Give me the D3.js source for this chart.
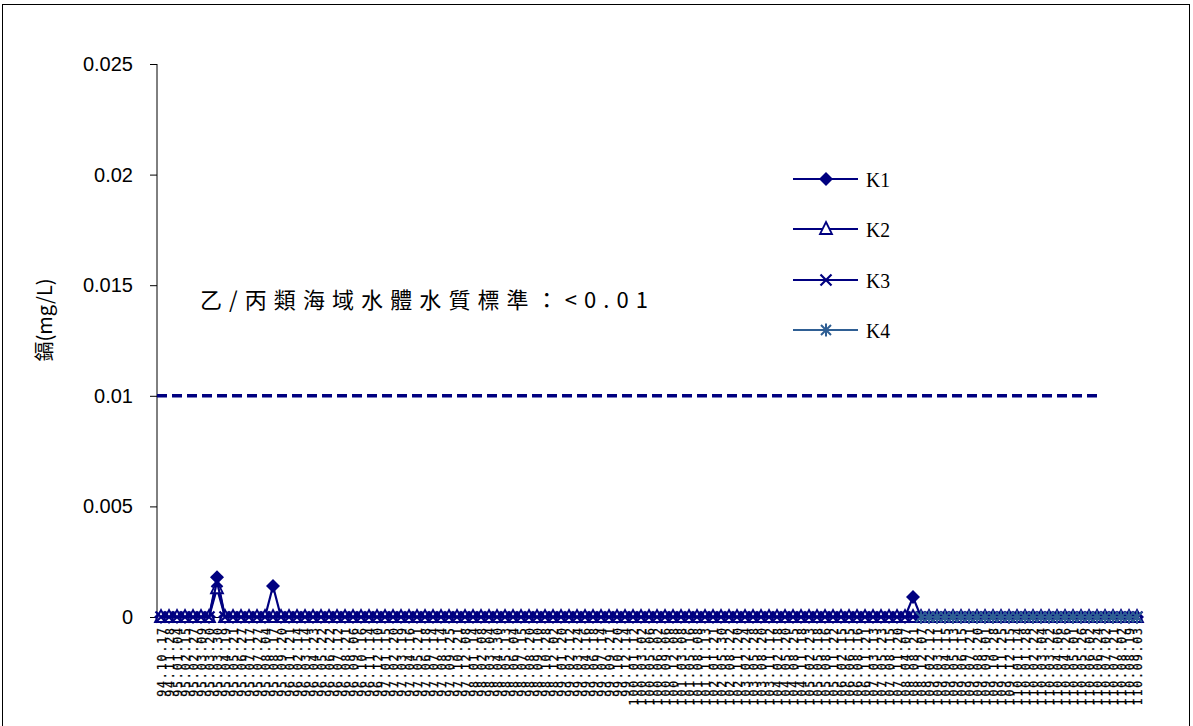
<!DOCTYPE html>
<html><head><meta charset="utf-8">
<script src="https://cdn.jsdelivr.net/npm/d3@7"></script>
<style>html,body{margin:0;padding:0;background:#fff;}svg{display:block;}</style>
</head><body>
<script>
const dates = [
"94.10.17","94.11.28",
"95.01.04","95.02.15","95.02.27","95.03.09","95.03.20","95.03.30","95.04.19","95.05.21","95.06.27","95.07.17","95.07.27","95.08.04","95.08.17","95.09.20",
"96.01.21","96.02.14","96.03.14","96.04.23","96.05.22","96.06.22","96.07.12","96.08.21","96.09.06","96.10.16","96.11.14","96.12.10",
"97.01.15","97.02.20","97.03.19","97.04.16","97.05.21","97.06.18","97.07.14","97.08.14","97.09.25","97.10.21","97.12.08",
"98.01.14","98.02.08","98.03.04","98.04.30","98.05.13","98.06.04","98.07.15","98.08.20","98.09.10","98.10.28","98.12.02",
"99.01.20","99.02.12","99.03.24","99.04.16","99.06.18","99.07.14","99.09.21","99.10.20","99.12.14",
"100.01.12","100.03.02","100.05.06","100.06.02","100.09.06","100.12.08",
"101.03.08","101.05.16","101.08.08","101.11.13",
"102.01.21","102.05.30","102.08.22","102.11.20",
"103.02.24","103.05.28","103.08.20","103.11.12",
"104.02.18","104.05.20","104.08.25","104.11.18",
"105.02.23","105.05.18","105.08.16","105.11.22",
"106.02.15","106.06.15","106.08.16","106.11.21",
"107.03.13","107.05.23","107.08.15","107.11.20",
"108.04.07","108.08.21","108.12.07",
"109.02.12","109.03.11","109.04.15","109.05.13","109.06.15","109.07.21","109.08.20","109.09.01","109.10.28","109.11.25","109.12.15",
"110.01.14","110.01.28","110.02.22","110.03.04","110.03.22","110.04.06","110.04.26","110.05.01","110.05.26","110.06.02","110.06.24","110.07.02","110.07.21","110.08.02","110.08.19","110.09.03"
];
const K1 = [0,0, 0,0,0,0,0,0.0018,0,0,0,0,0,0,0.0014,0, 0,0,0,0,0,0,0,0,0,0,0,0, 0,0,0,0,0,0,0,0,0,0,0, 0,0,0,0,0,0,0,0,0,0,0, 0,0,0,0,0,0,0,0,0, 0,0,0,0,0,0, 0,0,0,0, 0,0,0,0, 0,0,0,0, 0,0,0,0, 0,0,0,0, 0,0,0,0, 0,0,0,0, 0,0.0009,0, 0,0,0,0,0,0,0,0,0,0,0, 0,0,0,0,0,0,0,0,0,0,0,0,0,0,0,0];
const K2 = [0,0, 0,0,0,0,0,0.0013,0,0,0,0,0,0,0,0, 0,0,0,0,0,0,0,0,0,0,0,0, 0,0,0,0,0,0,0,0,0,0,0, 0,0,0,0,0,0,0,0,0,0,0, 0,0,0,0,0,0,0,0,0, 0,0,0,0,0,0, 0,0,0,0, 0,0,0,0, 0,0,0,0, 0,0,0,0, 0,0,0,0, 0,0,0,0, 0,0,0,0, 0,0,0, 0,0,0,0,0,0,0,0,0,0,0, 0,0,0,0,0,0,0,0,0,0,0,0,0,0,0,0];
const K3 = [0,0, 0,0,0,0,0,0.0016,0,0,0,0,0,0,0,0, 0,0,0,0,0,0,0,0,0,0,0,0, 0,0,0,0,0,0,0,0,0,0,0, 0,0,0,0,0,0,0,0,0,0,0, 0,0,0,0,0,0,0,0,0, 0,0,0,0,0,0, 0,0,0,0, 0,0,0,0, 0,0,0,0, 0,0,0,0, 0,0,0,0, 0,0,0,0, 0,0,0,0, 0,0,0, 0,0,0,0,0,0,0,0,0,0,0, 0,0,0,0,0,0,0,0,0,0,0,0,0,0,0,0];
const K4 = [null,null, null,null,null,null,null,null,null,null,null,null,null,null,null,null, null,null,null,null,null,null,null,null,null,null,null,null, null,null,null,null,null,null,null,null,null,null,null, null,null,null,null,null,null,null,null,null,null,null, null,null,null,null,null,null,null,null,null, null,null,null,null,null,null, null,null,null,null, null,null,null,null, null,null,null,null, null,null,null,null, null,null,null,null, null,null,null,null, null,null,null,null, null,null,0, 0,0,0,0,0,0,0,0,0,0,0, 0,0,0,0,0,0,0,0,0,0,0,0,0,0,0,0];
const seriesNames = ["K1","K2","K3","K4"];
const yTicks = [0, 0.005, 0.01, 0.015, 0.02, 0.025];
const standardValue = 0.01;
const standardEndDate = "110.06.24";
const yTitle = "鎘(mg/L)";
const note = "乙/丙類海域水體水質標準：<0.01";

const W = 1193, H = 726;
const svg = d3.select("body").append("svg").attr("width", W).attr("height", H);
svg.append("rect").attr("x",2.5).attr("y",4.5).attr("width",1187).attr("height",740)
  .attr("fill","none").attr("stroke","#000").attr("stroke-width",1);

const x = d3.scalePoint().domain(dates).range([157, 1141]).padding(0.5);
const y = d3.scaleLinear().domain([0, 0.025]).range([617, 64]);

// y axis
const yAxis = d3.axisLeft(y).tickValues(yTicks).tickSize(7).tickPadding(17)
  .tickFormat(d => d === 0 ? "0" : String(+d.toFixed(3)));
const gy = svg.append("g").attr("transform","translate(157,0)").call(yAxis);
gy.select(".domain").attr("stroke","#000").attr("d","M0,64V617");
gy.selectAll(".tick line").attr("stroke","#000");
gy.selectAll("text").attr("font-family","Liberation Sans, Arial, sans-serif").attr("font-size",20).attr("fill","#000");

// x axis
const xAxis = d3.axisBottom(x).tickSize(0).tickPadding(0);
const gx = svg.append("g").attr("transform","translate(0,617)").call(xAxis);
gx.select(".domain").attr("stroke","#000").attr("d","M157,0.5H1141");
gx.selectAll(".tick text")
  .attr("transform","translate(0,11) rotate(-90)")
  .attr("text-anchor","end").attr("dy","0.36em").attr("y",0).attr("x",0)
  .attr("font-family","DejaVu Sans Mono, monospace").attr("font-size",11.5).attr("fill","#000")
  .attr("stroke","#000").attr("stroke-width",0.25)
  .attr("textLength", d => d.length * 8.6).attr("lengthAdjust","spacing");

// y title
svg.append("text").attr("transform","translate(52,320) rotate(-90)")
  .attr("text-anchor","middle").attr("font-family","Noto Sans CJK TC, sans-serif")
  .attr("font-size",20).attr("fill","#000").text(yTitle);

// standard dashed line
svg.append("line").attr("x1",157).attr("x2",x(standardEndDate)).attr("y1",y(standardValue)).attr("y2",y(standardValue))
  .attr("stroke","#000080").attr("stroke-width",3.5).attr("stroke-dasharray","10,5");

// note
svg.append("text").attr("x",200).attr("y",308).attr("font-family","Noto Sans CJK TC, sans-serif")
  .attr("font-size",22).attr("fill","#000").attr("textLength",448).attr("lengthAdjust","spacing").text(note);

const colors = {K1:"#000080",K2:"#000080",K3:"#000080",K4:"#2F5F94"};
const seriesData = {K1, K2, K3, K4};

function marker(g, name, cx, cy) {
  const c = colors[name];
  if (name === "K1") {
    g.append("path").attr("d",`M${cx},${cy-7}L${cx+7},${cy}L${cx},${cy+7}L${cx-7},${cy}Z`).attr("fill",c);
  } else if (name === "K2") {
    g.append("path").attr("d",`M${cx},${cy-7}L${cx+6},${cy+5}L${cx-6},${cy+5}Z`).attr("fill","#fff").attr("stroke",c).attr("stroke-width",1.8);
  } else if (name === "K3") {
    g.append("path").attr("d",`M${cx-5.5},${cy-5.5}L${cx+5.5},${cy+5.5}M${cx+5.5},${cy-5.5}L${cx-5.5},${cy+5.5}`).attr("stroke",c).attr("stroke-width",2.2);
  } else {
    g.append("path").attr("d",`M${cx-5},${cy-5}L${cx+5},${cy+5}M${cx+5},${cy-5}L${cx-5},${cy+5}M${cx},${cy-6.5}V${cy+6.5}`).attr("stroke",c).attr("stroke-width",2);
  }
}

const line = d3.line().defined(d => d[1] !== null).x(d => x(d[0])).y(d => y(d[1]));
seriesNames.forEach(name => {
  const vals = seriesData[name];
  const pts = dates.map((d,i) => [d, vals[i]]);
  const g = svg.append("g");
  g.append("path").attr("d", line(pts)).attr("fill","none").attr("stroke",colors[name])
    .attr("stroke-width", name === "K4" ? 1.8 : 2.2);
  pts.filter(p => p[1] !== null).forEach(p => marker(g, name, x(p[0]), y(p[1])));
});

// legend
const legY = [179, 229, 280, 330];
seriesNames.forEach((name, i) => {
  const g = svg.append("g");
  g.append("line").attr("x1",793).attr("x2",858).attr("y1",legY[i]).attr("y2",legY[i])
    .attr("stroke",colors[name]).attr("stroke-width", name === "K4" ? 1.8 : 2.2);
  marker(g, name, 826, legY[i]);
  g.append("text").attr("x",866).attr("y",legY[i]+8).attr("font-family","Liberation Serif, serif")
    .attr("font-size",21).attr("fill","#000").attr("textLength",24).attr("lengthAdjust","spacingAndGlyphs").text(name);
});
</script>
</body></html>
